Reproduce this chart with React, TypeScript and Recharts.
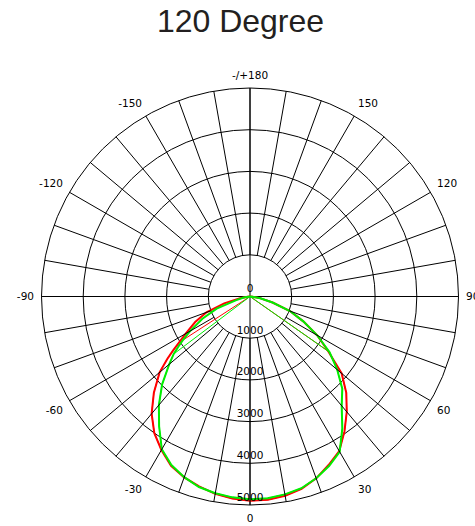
import { RadarChart, Radar, PolarGrid, PolarAngleAxis, PolarRadiusAxis } from "recharts";

// luminous intensity (cd) per angle, 0 = straight down
const angles = [
  -90, -85, -80, -75, -70, -65, -60, -57, -55, -53, -50, -45, -40, -35, -30, -25, -20, -15, -10, -5,
  0, 5, 10, 15, 20, 25, 30, 35, 40, 45, 50, 55, 60, 65, 70, 75, 80, 85, 90,
];
const red = [
  0, 60, 240, 640, 1110, 1450, 1780, 2030, 2250, 2480, 2830, 3260, 3670, 4000, 4250, 4480, 4615, 4715, 4805, 4865,
  4897, 4895, 4850, 4775, 4640, 4460, 4280, 3950, 3610, 3265, 2870, 2290, 1860, 1410, 1020, 560, 260, 60, 0,
];
const green = [
  0, 40, 150, 340, 850, 1260, 1660, 1920, 2100, 2290, 2530, 2980, 3400, 3800, 4230, 4460, 4610, 4730, 4790, 4835,
  4863, 4858, 4818, 4760, 4640, 4485, 4300, 3860, 3420, 3130, 2730, 2330, 1860, 1410, 1020, 560, 250, 60, 0,
];
// second half-plane of each curve stops early and jumps to 0 at 90
const redPlane2Range = [-57, 55];
const greenPlane2Range = [-53, 55];

const angleTicks = [-180, -170, -160, -150, -140, -130, -120, -110, -100, -90, -80, -70, -60, -50, -40, -30, -20, -10, 0, 10, 20, 30, 40, 50, 60, 70, 80, 90, 100, 110, 120, 130, 140, 150, 160, 170];
const labelledAngles = [-180, -150, -120, -90, -60, -30, 0, 30, 60, 90, 120, 150];
const radiusTicks = [0, 1000, 2000, 3000, 4000, 5000];
const mainAxes = [-180, -90, 0, 90];

const CX = 250;
const CY = 296.5;
const R = 208.5;
const FONT = "'DejaVu Sans', sans-serif";
const FS = 10.5;

const inRange = (a: number, r: number[]) => a === -90 || a === 90 || (a >= r[0] && a <= r[1]);

const data = angles.map((angle, i) => ({
  angle,
  red: red[i],
  green: green[i],
  red2: inRange(angle, redPlane2Range) ? red[i] : null,
  green2: inRange(angle, greenPlane2Range) ? green[i] : null,
}));

// label box sits just outside the rim, anchored on the side facing the centre
const AngleTick = (props: any) => {
  const { payload } = props;
  if (!labelledAngles.includes(payload.value)) return null;
  const rad = (-payload.coordinate * Math.PI) / 180;
  const ux = Math.cos(rad);
  const uy = Math.sin(rad);
  const r = R + 7.5;
  const px = CX + r * ux;
  const py = CY + r * uy;
  const anchor = Math.abs(ux) < 0.1 ? "middle" : ux > 0 ? "start" : "end";
  let y = py + FS * 0.36;
  if (uy < -0.1) y = py - 2;
  if (uy > 0.1) y = py + 2 + FS * 0.73;
  return (
    <text x={px} y={y} textAnchor={anchor} fontFamily={FONT} fontSize={FS} fill="#000">
      {payload.value === -180 ? "-/+180" : payload.value}
    </text>
  );
};

const RadiusTick = ({ x, y, payload }: any) => (
  <text x={x} y={y - 4.5} textAnchor="middle" fontFamily={FONT} fontSize={FS} fill="#000">
    {payload.value}
  </text>
);

export default function App() {
  return (
    <div style={{ position: "absolute", left: 0, top: 0, width: 475, height: 526, background: "#fff", overflow: "hidden" }}>
      <div
        style={{
          position: "absolute",
          left: 0,
          top: 5,
          width: 481,
          textAlign: "center",
          fontFamily: "'Liberation Sans', Arial, sans-serif",
          fontSize: 32,
          lineHeight: "32px",
          color: "#231f20",
        }}
      >
        120 Degree
      </div>
      <RadarChart
        width={475}
        height={526}
        data={data}
        cx={CX}
        cy={CY}
        outerRadius={R}
        startAngle={-270}
        endAngle={90}
        margin={{ top: 0, right: 0, bottom: 0, left: 0 }}
      >
        <PolarGrid gridType="circle" radialLines={false} stroke="#000" strokeWidth={1} />
        <PolarGrid
          gridType="circle"
          polarAngles={mainAxes.map((a) => a - 90)}
          polarRadius={[]}
          stroke="#000"
          strokeWidth={1}
        />
        {/* spokes run from the 1000 ring out to the rim */}
        <PolarAngleAxis
          dataKey="angle"
          type="number"
          domain={[-180, 180]}
          ticks={angleTicks}
          tickSize={-R * 0.8}
          axisLine={false}
          tickLine={{ stroke: "#000", strokeWidth: 1 }}
          tick={<AngleTick />}
        />
        <PolarRadiusAxis
          angle={-90}
          type="number"
          domain={[0, 5000]}
          ticks={radiusTicks}
          axisLine={false}
          tickLine={false}
          tick={<RadiusTick />}
        />
        <Radar dataKey="red" stroke="#ff0000" strokeWidth={2} fill="none" dot={false} connectNulls isAnimationActive={false} />
        <Radar dataKey="red2" stroke="#ff0000" strokeWidth={1} fill="none" dot={false} connectNulls isAnimationActive={false} />
        <Radar dataKey="green" stroke="#00ee00" strokeWidth={2} fill="none" dot={false} connectNulls isAnimationActive={false} />
        <Radar dataKey="green2" stroke="#00ee00" strokeWidth={1} fill="none" dot={false} connectNulls isAnimationActive={false} />
      </RadarChart>
    </div>
  );
}
